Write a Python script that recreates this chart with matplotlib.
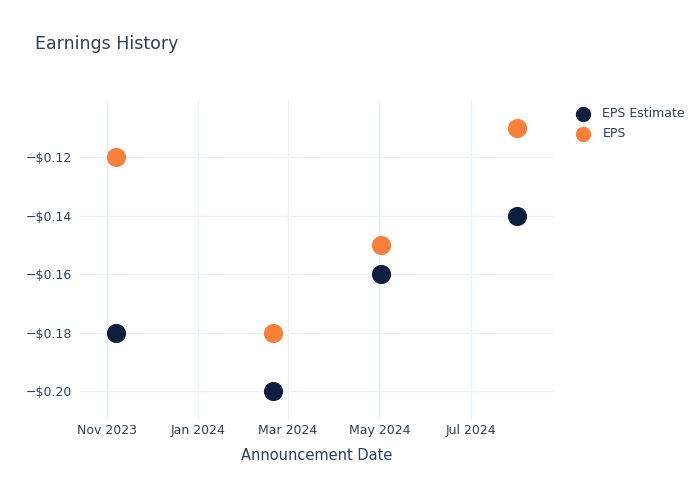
import matplotlib
matplotlib.use("Agg")
import matplotlib.pyplot as plt
import matplotlib.dates as mdates
from matplotlib.ticker import FuncFormatter
import pandas as pd

# Earnings data
dates = pd.to_datetime(["2023-11-07", "2024-02-20", "2024-05-02", "2024-08-01"])
eps_estimate = [-0.18, -0.20, -0.16, -0.14]
eps_actual = [-0.12, -0.18, -0.15, -0.11]

text_color = "#2a3f5f"
grid_color = "#ebf0f8"
navy = "#0e1f40"
orange = "#f7813a"

plt.rcParams["font.family"] = ["DejaVu Sans"]

fig = plt.figure(figsize=(7, 5), dpi=100)
ax = fig.add_axes([80 / 700, 80 / 500, 473 / 700, 320 / 500])

ax.scatter(dates, eps_estimate, s=190, color=navy, label="EPS Estimate", zorder=3, linewidths=0)
ax.scatter(dates, eps_actual, s=190, color=orange, label="EPS", zorder=3, linewidths=0)

ax.set_xlim(pd.Timestamp("2023-10-14"), pd.Timestamp("2024-08-25"))
ax.set_ylim(-0.2099, -0.1004)

ax.xaxis.set_major_locator(mdates.MonthLocator(bymonth=[1, 3, 5, 7, 11]))
ax.xaxis.set_major_formatter(mdates.DateFormatter("%b %Y"))
ax.set_yticks([-0.20, -0.18, -0.16, -0.14, -0.12])
ax.yaxis.set_major_formatter(FuncFormatter(lambda v, p: f"\u2212${abs(v):.2f}"))

ax.grid(True, color=grid_color, linewidth=1)
ax.set_axisbelow(True)
for s in ax.spines.values():
    s.set_visible(False)
ax.tick_params(length=0, colors=text_color, labelsize=9)
ax.tick_params(axis="x", pad=3)
ax.tick_params(axis="y", pad=6)

ax.set_xlabel("Announcement Date", color=text_color, fontsize=10.5, labelpad=8)
fig.text(35 / 700, 1 - 44 / 500, "Earnings History", color=text_color, fontsize=12.5, va="center")

leg = ax.legend(loc="upper left", bbox_to_anchor=(565 / 700, 1 - 102 / 500), bbox_transform=fig.transFigure,
                frameon=False, fontsize=9, handletextpad=0.6, labelspacing=0.55, markerscale=0.8,
                borderaxespad=0)
for t in leg.get_texts():
    t.set_color(text_color)

fig.savefig("out.png", dpi=100)
